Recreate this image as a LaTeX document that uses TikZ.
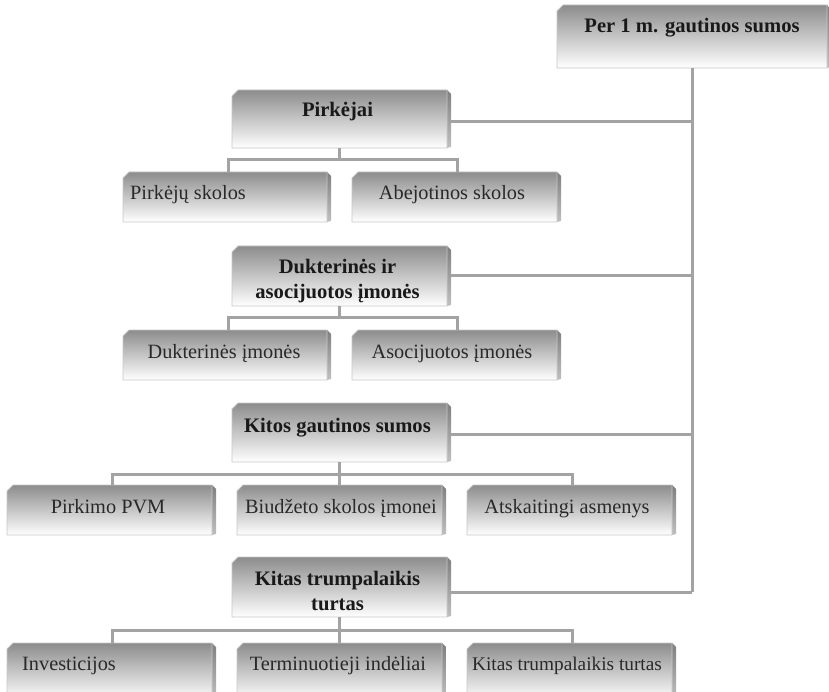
\documentclass[tikz,border=0pt]{standalone}
\usepackage{fontspec}
\setmainfont{Liberation Serif}
\usetikzlibrary{calc}

\tikzset{
  boxarea/.style={rectangle, inner sep=0pt, outer sep=0pt},
  frontshade/.style={top color=black!45, middle color=black!17, bottom color=white},
  sideshade/.style={top color=black!50, bottom color=black!25},
  boxedge/.style={draw=black!22, line width=0.8pt},
  conn/.style={draw=black!36, line width=3pt},
  lbl/.style={inner sep=0pt, anchor=base, text=black!84, font=\fontsize{20.3}{25}\selectfont},
  head/.style={inner sep=0pt, text=black!90, font=\fontsize{20.6}{25}\selectfont\bfseries, align=center},
}

% bevelled box: name, left, top, right, bottom (y grows downwards)
\newcommand\bevelbox[5]{%
  \node[boxarea, minimum width={(#4-#2)*1pt}, minimum height={(#5-#3)*1pt}]
    (#1) at ({(#2+#4)/2},{(#3+#5)/2}) {};
  \shade[sideshade] (#4,#3) -- (#4+4,#3+4) -- (#4+4,#5-1) -- (#4,#5) -- cycle;
  \shade[frontshade] (#2,#3+6) -- (#2+6,#3) -- (#4,#3) -- (#4,#5) -- (#2,#5) -- cycle;
  \draw[boxedge] (#2,#3+6) -- (#2+6,#3) -- (#4,#3) -- (#4,#5) -- (#2,#5) -- cycle;
}

\begin{document}
\begin{tikzpicture}[x=1pt, y=-1pt]
  \useasboundingbox (0,0) rectangle (829,692);
  \begin{scope}
  \clip (0,0) rectangle (829,692);

  % bars joining each group of children
  \coordinate (bar1) at (339.5,160);
  \coordinate (bar2) at (339.5,317);
  \coordinate (bar3) at (339.5,474);
  \coordinate (bar4) at (339.5,630);

  % boxes
  \bevelbox{top}{557}{5}{827}{68}
  \bevelbox{pirk}{232}{90}{447}{148}
  \bevelbox{ps}{123}{172}{327}{222}
  \bevelbox{ab}{352}{172}{557}{222}
  \bevelbox{duk}{232}{246}{447}{306}
  \bevelbox{dk}{123}{330}{327}{380}
  \bevelbox{asc}{352}{330}{557}{380}
  \bevelbox{kg}{232}{403}{447}{462}
  \bevelbox{pv}{7}{485}{212}{535}
  \bevelbox{bi}{237}{485}{442}{535}
  \bevelbox{at}{467}{485}{672}{535}
  \bevelbox{kt}{232}{557}{447}{617}
  \bevelbox{inv}{7}{643}{212}{700}
  \bevelbox{ti}{237}{643}{442}{700}
  \bevelbox{ktt}{467}{643}{672}{700}

  % trunk and links to the four groups
  \draw[conn] (top.south) -- ([yshift=-5pt]kt.east -| top.south);
  \draw[conn] ([xshift=4pt,yshift=-3pt]pirk.east) -- ([yshift=-3pt]pirk.east -| top.south);
  \draw[conn] ([xshift=4pt]duk.east) -- (duk.east -| top.south);
  \draw[conn] ([xshift=4pt,yshift=-2pt]kg.east) -- ([yshift=-2pt]kg.east -| top.south);
  \draw[conn] ([xshift=4pt,yshift=-5pt]kt.east) -- ([yshift=-5pt]kt.east -| top.south);

  % group 1
  \draw[conn] (pirk.south) -- (bar1);
  \draw[conn] ([xshift=3pt]ps.north) |- (bar1) -| ([xshift=3pt]ab.north);
  % group 2
  \draw[conn] (duk.south) -- (bar2);
  \draw[conn] ([xshift=3pt]dk.north) |- (bar2) -| ([xshift=3pt]asc.north);
  % group 3
  \draw[conn] (kg.south) -- (bar3);
  \draw[conn] ([xshift=3pt]pv.north) |- (bar3) -| ([xshift=3pt]at.north);
  \draw[conn] (bi.north |- bar3) -- (bi.north);
  % group 4
  \draw[conn] (kt.south) -- (bar4);
  \draw[conn] ([xshift=3pt]inv.north) |- (bar4) -| ([xshift=3pt]ktt.north);
  \draw[conn] (ti.north |- bar4) -- (ti.north);
  \end{scope}

  % labels
  \node[head, anchor=base] (top-t) at (692,33) {Per 1 m. gautinos sumos};
  \node[head, anchor=base] (pirk-t) at (337.5,117) {Pirkėjai};
  \node[lbl] (ps-t) at (188,200) {Pirkėjų skolos};
  \node[lbl] (ab-t) at (452,200) {Abejotinos skolos};
  \node[head] (duk-t) at (337.5,281) {Dukterinės ir\\asocijuotos įmonės};
  \node[lbl] (dk-t) at (224,358) {Dukterinės įmonės};
  \node[lbl] (asc-t) at (452,358) {Asocijuotos įmonės};
  \node[head, anchor=base] (kg-t) at (337.5,432) {Kitos gautinos sumos};
  \node[lbl] (pv-t) at (108,513) {Pirkimo PVM};
  \node[lbl] (bi-t) at (341,513) {Biudžeto skolos įmonei};
  \node[lbl] (at-t) at (567,513) {Atskaitingi asmenys};
  \node[head] (kt-t) at (337.5,591) {Kitas trumpalaikis\\turtas};
  \node[lbl] (inv-t) at (69,670) {Investicijos};
  \node[lbl] (ti-t) at (338,670) {Terminuotieji indėliai};
  \node[lbl, font=\fontsize{19.3}{24}\selectfont] (ktt-t) at (567,670) {Kitas trumpalaikis turtas};
\end{tikzpicture}
\end{document}
